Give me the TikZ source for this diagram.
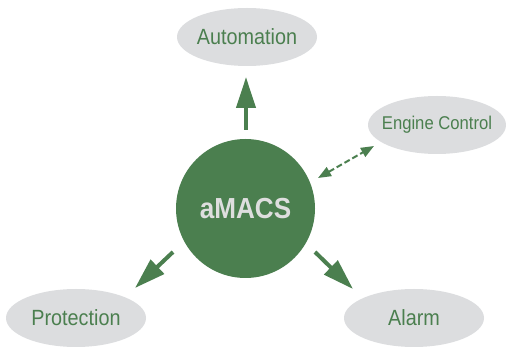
\documentclass[tikz,border=0pt]{standalone}
\usepackage{fontspec}
\setmainfont[FakeStretch=0.9]{Liberation Sans}
\usetikzlibrary{arrows.meta,shapes.geometric}
\definecolor{mgreen}{HTML}{4B7F4F}
\definecolor{egray}{HTML}{DCDDDF}
\definecolor{lgray}{HTML}{DEDEDE}
\newcommand{\nobox}[1]{\makebox[0pt]{#1}}
\begin{document}
\begin{tikzpicture}[x=1pt,y=-1pt,
  sat/.style={ellipse, fill=egray, minimum width=140pt, minimum height=58pt, inner sep=0pt,
    text=mgreen, font=\fontsize{22}{24}\selectfont},
  arr/.style={draw=mgreen, line width=4pt, -{Triangle[width=19pt,length=31pt]}, mgreen},
  darr/.style={draw=mgreen, line width=2pt, dash pattern=on 6pt off 3pt,
    {Triangle[width=10pt,length=13pt]}-{Triangle[width=10pt,length=13pt]}, mgreen}]
\useasboundingbox (0,0) rectangle (506,347);
\node[circle, fill=mgreen, minimum size=139pt, inner sep=0pt, text=lgray,
  font=\fontsize{29}{30}\bfseries\selectfont] (amacs) at (245.5,208.5) {aMACS};
\node[sat] (auto) at (247,37) {\nobox{Automation}};
\node[sat, font=\fontsize{18.5}{20}\selectfont, minimum width=138pt] (eng) at (437,125) {\nobox{Engine Control}};
\node[sat] (prot) at (76,318) {\nobox{Protection}};
\node[sat] (alarm) at (414,318) {\nobox{Alarm}};
\coordinate (a1) at (246,130);
\coordinate (a2) at (246,77);
\coordinate (e1) at (318,178);
\coordinate (e2) at (374,146);
\coordinate (p1) at (173,252);
\coordinate (p2) at (135,288);
\coordinate (l1) at (315,252);
\coordinate (l2) at (353,289);
\draw[arr] (a1) -- (a2);
\draw[darr] (e1) -- (e2);
\draw[arr] (p1) -- (p2);
\draw[arr] (l1) -- (l2);
\end{tikzpicture}
\end{document}
